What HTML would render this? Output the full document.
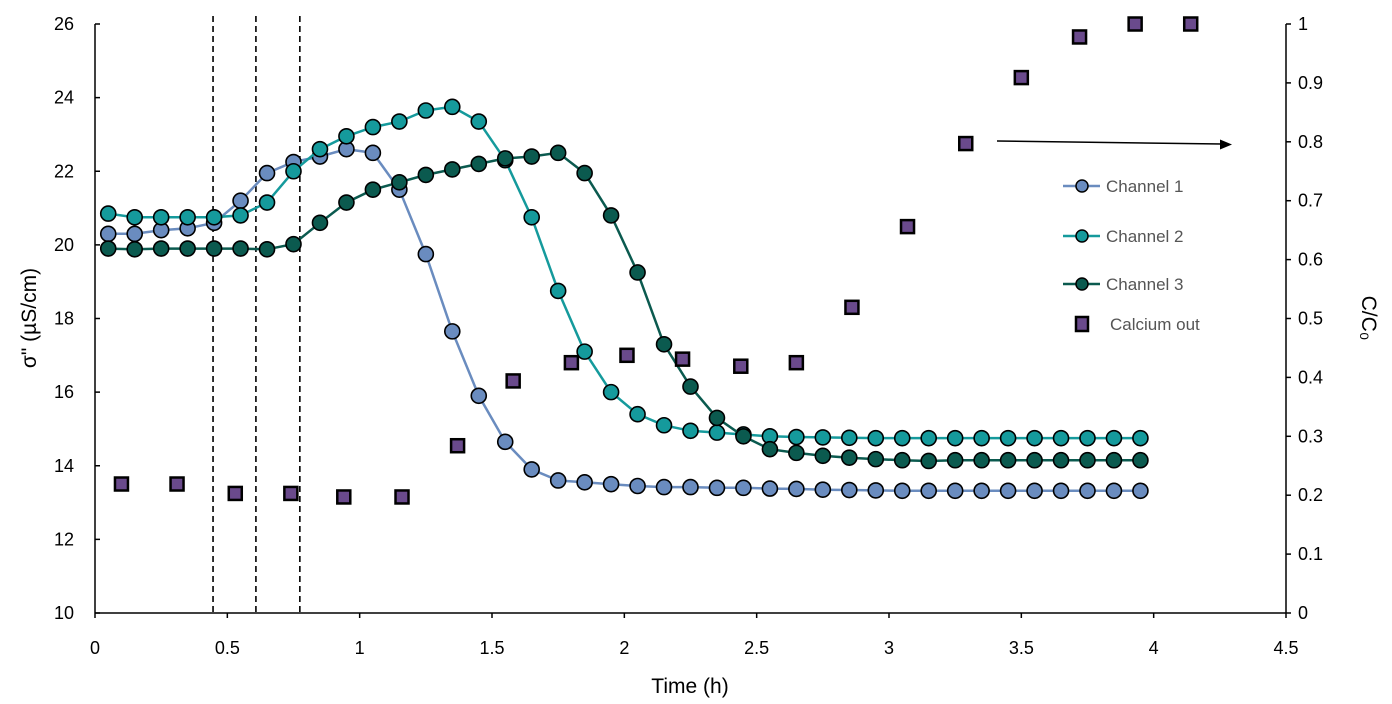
<!DOCTYPE html>
<html><head><meta charset="utf-8"><style>
html,body{margin:0;padding:0;background:#fff;}
svg{display:block;font-family:"Liberation Sans",sans-serif;}
</style></head><body>
<svg id="chart" width="1392" height="704" viewBox="0 0 1392 704" xmlns="http://www.w3.org/2000/svg">
<g id="grid"></g>
<g id="marks"></g>
<g id="axes"></g>
</svg>
<script>
const times = [];
for (let i = 0; i < 40; i++) times.push(+(0.05 + i * 0.1).toFixed(2));
const channel1 = [20.3,20.3,20.4,20.45,20.6,21.2,21.95,22.25,22.4,22.6,22.5,21.5,19.75,17.65,15.9,14.65,13.9,13.6,13.55,13.5,13.45,13.42,13.42,13.4,13.4,13.38,13.37,13.35,13.34,13.33,13.32,13.32,13.32,13.32,13.32,13.32,13.32,13.32,13.32,13.32];
const channel2 = [20.85,20.75,20.75,20.75,20.75,20.8,21.15,22.0,22.6,22.95,23.2,23.35,23.65,23.75,23.35,22.3,20.75,18.75,17.1,16.0,15.4,15.1,14.95,14.9,14.85,14.8,14.78,14.77,14.76,14.75,14.75,14.75,14.75,14.75,14.75,14.75,14.75,14.75,14.75,14.75];
const channel3 = [19.9,19.88,19.9,19.9,19.9,19.9,19.88,20.02,20.6,21.15,21.5,21.7,21.9,22.05,22.2,22.35,22.4,22.5,21.95,20.8,19.25,17.3,16.15,15.3,14.8,14.45,14.35,14.27,14.22,14.18,14.15,14.13,14.15,14.15,14.15,14.15,14.15,14.15,14.15,14.15];
const calciumTimes = [0.1,0.31,0.53,0.74,0.94,1.16,1.37,1.58,1.80,2.01,2.22,2.44,2.65,2.86,3.07,3.29,3.50,3.72,3.93,4.14];
const calciumOut = [0.219,0.219,0.203,0.203,0.197,0.197,0.284,0.394,0.425,0.4375,0.431,0.419,0.425,0.519,0.656,0.797,0.909,0.978,1,1];
const dashedTimes = [0.446,0.608,0.774];
const xTicks = [0,0.5,1,1.5,2,2.5,3,3.5,4,4.5];
const yLeftTicks = [10,12,14,16,18,20,22,24,26];
const yRightTicks = [0,0.1,0.2,0.3,0.4,0.5,0.6,0.7,0.8,0.9,1];

const NS = "http://www.w3.org/2000/svg";
const X0=95, X1=1286, Y0=613, Y1=24;
const xs = t => X0 + t/4.5*(X1-X0);
const yl = v => Y0 - (v-10)/16*(Y0-Y1);
const yr = v => Y0 - v*(Y0-Y1);
function mk(tag, attrs, parent, text){
  const e = document.createElementNS(NS, tag);
  for (const k in attrs) e.setAttribute(k, attrs[k]);
  if (text !== undefined) e.textContent = text;
  parent.appendChild(e);
  return e;
}
const marks = document.getElementById('marks');
const axes = document.getElementById('axes');
const grid = document.getElementById('grid');

dashedTimes.forEach((t,i)=>{
  const l = mk('line',{x1:xs(t),x2:xs(t),y1:Y1-8,y2:Y0,stroke:'#000','stroke-width':1.6,'stroke-dasharray':'6,4'},grid);
  
  
});

const series = [
  {name:'channel-1', data:channel1, fill:'#6a8cbf', line:'#6a8cbf'},
  {name:'channel-2', data:channel2, fill:'#159a9c', line:'#159a9c'},
  {name:'channel-3', data:channel3, fill:'#0b5a4f', line:'#0b5a4f'}
];
series.forEach(s=>{
  const g = mk('g',{},marks);
  
  
  const pts = s.data.map((v,i)=>xs(times[i]).toFixed(1)+','+yl(v).toFixed(1)).join(' ');
  const pl = mk('polyline',{points:pts,fill:'none',stroke:s.line,'stroke-width':2.5},g);
  
  
  s.data.forEach((v,i)=>{
    const c = mk('circle',{cx:xs(times[i]),cy:yl(v),r:7.5,fill:s.fill,stroke:'#000','stroke-width':1.6},g);
    
    
  });
});
calciumOut.forEach((v,i)=>{
  const r = mk('rect',{x:xs(calciumTimes[i])-6.5,y:yr(v)-6.5,width:13,height:13,fill:'#6a4a8c',stroke:'#000','stroke-width':2.5},marks);
  
  
});

// axes
[[X0,Y1,X0,Y0],[X0,Y0,X1,Y0],[X1,Y1,X1,Y0]].forEach((a,i)=>{
  const l = mk('line',{x1:a[0],y1:a[1],x2:a[2],y2:a[3],stroke:'#000','stroke-width':1.5},axes);
  
  
});
xTicks.forEach(t=>{
  mk('line',{x1:xs(t),x2:xs(t),y1:Y0,y2:Y0+5,stroke:'#000','stroke-width':1.5},axes);
  const tx = mk('text',{x:xs(t),y:Y0+41,'text-anchor':'middle','font-size':18,fill:'#000'},axes,String(t));
  
  
});
yLeftTicks.forEach(v=>{
  mk('line',{x1:X0,x2:X0+5,y1:yl(v),y2:yl(v),stroke:'#000','stroke-width':1.5},axes);
  const tx = mk('text',{x:74,y:yl(v)+6,'text-anchor':'end','font-size':18,fill:'#000'},axes,String(v));
  
  
});
yRightTicks.forEach(v=>{
  mk('line',{x1:X1,x2:X1+5,y1:yr(v),y2:yr(v),stroke:'#000','stroke-width':1.5},axes);
  const tx = mk('text',{x:1298,y:yr(v)+6,'text-anchor':'start','font-size':18,fill:'#000'},axes,String(v));
  
  
});
let t;
t = mk('text',{x:690,y:693,'text-anchor':'middle','font-size':21,fill:'#000'},axes,'Time (h)');


t = mk('text',{x:0,y:0,'text-anchor':'middle','font-size':21,fill:'#000',transform:'translate(36,318) rotate(-90)'},axes,'σ" (µS/cm)');


t = mk('text',{x:0,y:0,'text-anchor':'middle','font-size':21,fill:'#000',transform:'translate(1362,318) rotate(90)'},axes,'C/C₀');



// arrow
const ar = mk('g',{},axes);


mk('line',{x1:997,y1:141,x2:1222,y2:144,stroke:'#000','stroke-width':1.5},ar);
mk('polygon',{points:'1232,144.5 1220,139.5 1220,149.5',fill:'#000'},ar);

// legend
const lg = mk('g',{},axes);


const legendNames = ['Channel 1','Channel 2','Channel 3'];
const legendY = [186,236,284];
series.forEach((s,i)=>{
  const e = mk('g',{},lg);
  
  
  mk('line',{x1:1063,x2:1100,y1:legendY[i],y2:legendY[i],stroke:s.line,'stroke-width':2.5},e);
  mk('circle',{cx:1082,cy:legendY[i],r:6,fill:s.fill,stroke:'#000','stroke-width':1.5},e);
  mk('text',{x:1106,y:legendY[i]+6,'font-size':17,fill:'#555'},e,legendNames[i]);
});
const ce = mk('g',{},lg);


mk('rect',{x:1076,y:317,width:12,height:14,fill:'#6a4a8c',stroke:'#000','stroke-width':2.5},ce);
mk('text',{x:1110,y:330,'font-size':17,fill:'#555'},ce,'Calcium out');
</script>
</body></html>
